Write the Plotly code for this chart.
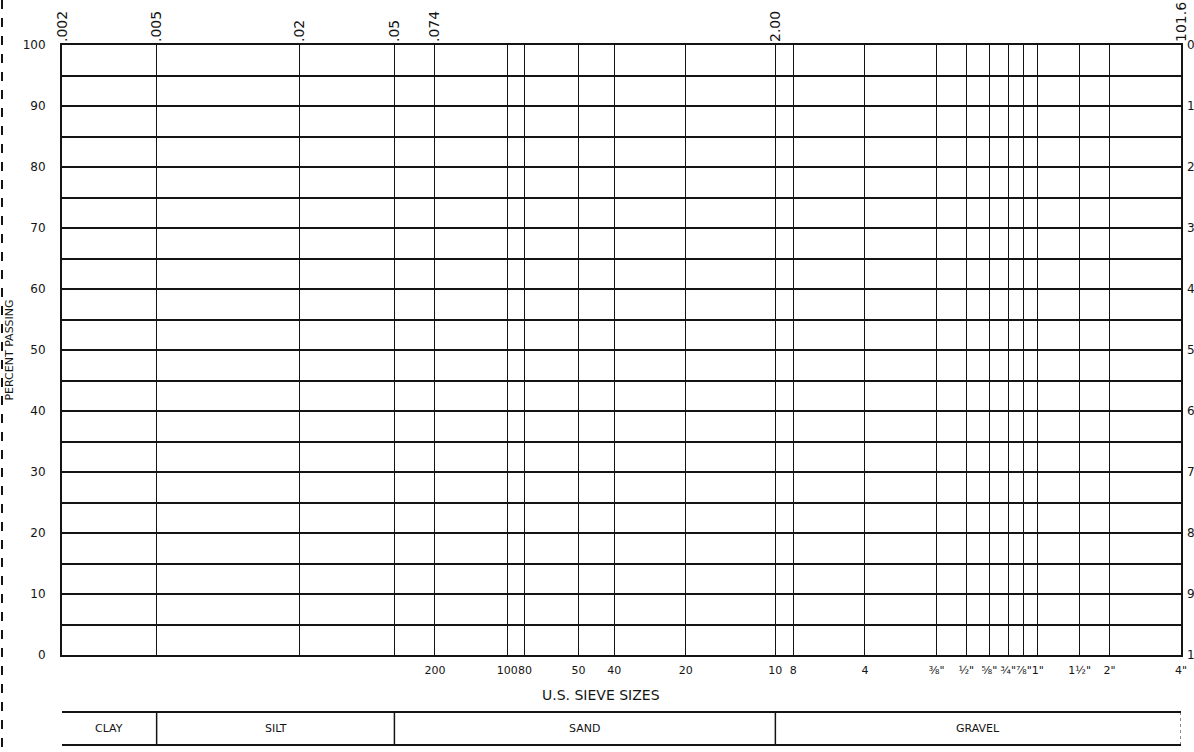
import math
import plotly.graph_objects as go

# ---- data ----
sieve_labels = ["200", "100", "80", "50", "40", "20", "10", "8", "4",
                '⅜"', '½"', '⅝"', '¾"', '⅞"', '1"', '1½"', '2"', '4"']
sieve_mm = [0.074, 0.149, 0.177, 0.297, 0.420, 0.840, 2.00, 2.38, 4.76,
            9.53, 12.7, 15.9, 19.05, 22.2, 25.4, 38.1, 50.8, 101.6]
grain_mm = [0.002, 0.005, 0.02, 0.05, 0.074, 2.00, 101.6]
grain_labels = [".002", ".005", ".02", ".05", ".074", "2.00", "101.6"]
passing_ticks = list(range(0, 101, 10))
passing_minor = list(range(5, 100, 10))
retained_ticks = list(range(0, 101, 10))
soil_classes = ["CLAY", "SILT", "SAND", "GRAVEL"]
class_bounds = [0.002, 0.005, 0.05, 2.00, 101.6]

INK = "#141414"
FONT = "DejaVu Sans"

fig = go.Figure()
# invisible anchor traces so every axis is drawn
fig.add_trace(go.Scatter(x=[grain_mm[0], grain_mm[-1]], y=[0, 100], mode="markers",
                         marker=dict(opacity=0), hoverinfo="skip", showlegend=False))
fig.add_trace(go.Scatter(x=[grain_mm[0], grain_mm[-1]], y=[0, 100], mode="markers",
                         xaxis="x2", marker=dict(opacity=0), hoverinfo="skip", showlegend=False))
fig.add_trace(go.Scatter(x=[grain_mm[0], grain_mm[-1]], y=[100, 0], mode="markers",
                         yaxis="y2", marker=dict(opacity=0), hoverinfo="skip", showlegend=False))

xr = [math.log10(grain_mm[0]), math.log10(grain_mm[-1])]

fig.update_layout(
    width=1194, height=752,
    margin=dict(l=62, r=13, t=45, b=97, autoexpand=False),
    plot_bgcolor="white", paper_bgcolor="white",
    showlegend=False,
    font=dict(family=FONT, color=INK, size=12),
    xaxis=dict(type="log", range=xr, tickvals=sieve_mm, ticktext=sieve_labels,
               showgrid=True, gridcolor=INK, gridwidth=1.2,
               showline=True, linecolor=INK, linewidth=2, mirror=True,
               ticks="", tickangle=0, tickfont=dict(size=11, family=FONT), ticklabelstandoff=4,
               zeroline=False, automargin=False),
    xaxis2=dict(type="log", range=xr, overlaying="x", side="top",
                tickvals=grain_mm, ticktext=grain_labels, tickangle=-90,
                showgrid=True, gridcolor=INK, gridwidth=1.2,
                ticks="", tickfont=dict(size=14, family=FONT), ticklabelstandoff=2,
                showline=False, zeroline=False, automargin=False),
    yaxis=dict(range=[0, 100], tickvals=passing_ticks,
               ticktext=[str(v) for v in passing_ticks],
               showgrid=True, gridcolor=INK, gridwidth=1.6,
               minor=dict(tickvals=passing_minor, showgrid=True, gridcolor=INK, gridwidth=1.6, ticks=""),
               showline=True, linecolor=INK, linewidth=2, mirror=True,
               ticks="", ticklabelstandoff=12, tickfont=dict(size=12, family=FONT),
               zeroline=False, automargin=False,
               title=dict(text="PERCENT PASSING", font=dict(size=11, family=FONT), standoff=7)),
    yaxis2=dict(range=[100, 0], overlaying="y", side="right", tickvals=retained_ticks,
                ticktext=[str(v) for v in retained_ticks], showgrid=False,
                ticks="", zeroline=False, showline=False, automargin=False,
                tickfont=dict(size=12, family=FONT), ticklabelstandoff=5),
)

# axis caption for the sieve scale
fig.add_annotation(text="U.S. SIEVE SIZES", xref="paper", yref="paper",
                   x=(601 - 62) / 1119, y=-0.0656, yanchor="middle", showarrow=False,
                   font=dict(size=14, family=FONT, color=INK))

# soil classification strip below the chart
y_top, y_bot, y_txt = -0.0934, -0.1475, -0.1213
for yy in (y_top, y_bot):
    fig.add_shape(type="line", xref="x", yref="paper",
                  x0=class_bounds[0], x1=class_bounds[-1], y0=yy, y1=yy,
                  line=dict(color=INK, width=2))
for b in class_bounds[1:-1]:
    fig.add_shape(type="line", xref="x", yref="paper", x0=b, x1=b, y0=y_top, y1=y_bot,
                  line=dict(color=INK, width=1.5))
fig.add_shape(type="line", xref="x", yref="paper", x0=class_bounds[-1], x1=class_bounds[-1],
              y0=y_top, y1=y_bot, line=dict(color=INK, width=1, dash="dot"))
for name, lo, hi in zip(soil_classes, class_bounds[:-1], class_bounds[1:]):
    mid = (math.log10(lo) + math.log10(hi)) / 2
    fig.add_annotation(text=name, xref="x", yref="paper", x=mid, y=y_txt,
                       yanchor="middle", showarrow=False,
                       font=dict(size=11, family=FONT, color=INK))

# scanned page edge on the left
fig.add_shape(type="line", xref="paper", yref="paper",
              x0=(2 - 62) / 1119, x1=(2 - 62) / 1119, y0=45 / 610 + 1, y1=-97 / 610,
              line=dict(color=INK, width=2, dash="dash"))

fig.write_html("out.html", config={"displayModeBar": False},
               post_script="document.body.style.margin='0px';")
